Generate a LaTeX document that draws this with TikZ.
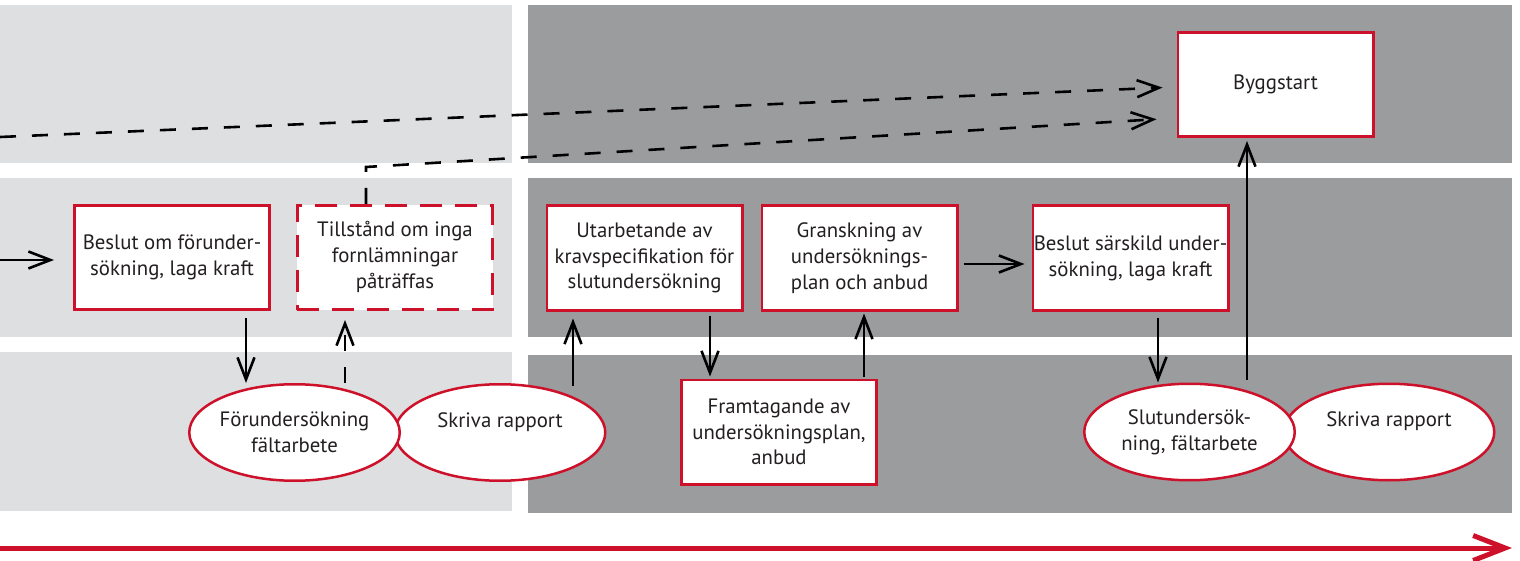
\documentclass[tikz,border=0pt]{standalone}
\usepackage{fontspec}
\setmainfont{PT Sans}
\usetikzlibrary{arrows.meta,shapes.geometric}
\definecolor{lightbg}{RGB}{222,223,225}
\definecolor{darkbg}{RGB}{155,156,158}
\definecolor{redc}{RGB}{206,17,42}
\definecolor{txt}{RGB}{35,31,32}
\begin{document}
\begin{tikzpicture}[x=1pt,y=-1pt,
  band/.style={fill=#1,draw=none},
  boxtext/.style={font=\fontsize{20.8}{25.7}\selectfont,text=txt,align=center},
  stepbox/.style={boxtext,draw=redc,line width=2.7pt,fill=white,inner sep=0pt,
    minimum width=195.3pt,minimum height=104.3pt},
  dashbox/.style={stepbox,dash pattern=on 22pt off 13pt},
  oval/.style={boxtext,ellipse,draw=redc,line width=2.5pt,fill=white,inner sep=-8pt,
    minimum width=210.5pt,minimum height=96.5pt},
  arr/.style={draw=black,line width=2.6pt,-{Straight Barb[length=22pt,width=17pt]}},
  darr/.style={arr,dash pattern=on 16pt off 16pt},
  timeline/.style={draw=redc,line width=5pt,-{Straight Barb[length=32pt,width=25pt]}}
]
\useasboundingbox (0,0) rectangle (1520,561);
% background bands
\fill[band=lightbg] (0,5) rectangle (512,163);
\fill[band=lightbg] (0,178) rectangle (512,337);
\fill[band=lightbg] (0,352) rectangle (512,511);
\fill[band=darkbg] (528,5) rectangle (1512,163);
\fill[band=darkbg] (528,178) rectangle (1512,337);
\fill[band=darkbg] (528,355) rectangle (1512,513);

% nodes
\node[stepbox] (beslut1) at (172,257.5) {Beslut om förunder-\\sökning, laga kraft};
\node[dashbox] (tillst) at (395,257.5) {\raisebox{19pt}{\begin{tabular}{@{}c@{}}Tillstånd om inga\\fornlämningar\\påträffas\end{tabular}}};
\node[stepbox] (utarb) at (644.5,258) {Utarbetande av\\kravspecifikation för\\slutundersökning};
\node[stepbox] (gransk) at (859.5,258) {Granskning av\\undersöknings-\\plan och anbud};
\node[stepbox] (beslut2) at (1130.5,258) {Beslut särskild under-\\sökning, laga kraft};
\node[stepbox] (bygg) at (1275.5,84.5) {Byggstart};
\node[stepbox] (framt) at (779,432) {Framtagande av\\undersökningsplan,\\anbud};
\node[oval] (sk1) at (500,432.5) {Skriva rapport\\\mbox{}};
\node[oval] (f1ell) at (294.5,432.5) {Förundersökning\\fältarbete};
\node[oval] (sk2) at (1389,432) {Skriva rapport\\\mbox{}};
\node[oval] (slut) at (1189.5,432) {Slutundersök-\\ning, fältarbete};

% helper coordinates
\coordinate (in1) at (0,260);
\coordinate (d1) at (0,137);
\coordinate (bend) at (366,167);
\coordinate (xa) at (246,0);
\coordinate (xb) at (345,0);
\coordinate (xc) at (573,0);
\coordinate (xe) at (710,0);
\coordinate (xf) at (864,0);
\coordinate (yg) at (0,264);
\coordinate (xh) at (1158,0);
\coordinate (xi) at (1247,0);
\coordinate (tl0) at (0,548);
\coordinate (tl1) at (1512,548);

% connectors
\draw[arr,shorten >=19pt] (in1) -- (in1 -| beslut1.west);
\draw[darr,shorten >=14pt] (d1) -- ([yshift=-2.5pt]bygg.west);
\draw[darr,shorten >=20pt] (tillst.north -| bend) -- (bend) -- ([yshift=-33.5pt]bygg.west);
\draw[arr,shorten <=7pt] (beslut1.south -| xa) -- (f1ell.north -| xa);
\draw[darr,shorten >=9pt] (f1ell.north -| xb) -- (tillst.south -| xb);
\draw[arr,shorten <=-3pt,shorten >=7pt] (sk1.north -| xc) -- (utarb.south -| xc);
\draw[arr,shorten <=4pt,shorten >=2pt] (utarb.south -| xe) -- (framt.north -| xe);
\draw[arr,shorten <=2pt,shorten >=2pt] (framt.north -| xf) -- (gransk.south -| xf);
\draw[arr,shorten <=5pt,shorten >=7pt] (gransk.east |- yg) -- (beslut2.west |- yg);
\draw[arr,shorten <=6pt] (beslut2.south -| xh) -- (slut.north -| xh);
\draw[arr,shorten <=3pt,shorten >=3pt] (slut.north -| xi) -- (bygg.south -| xi);
\draw[timeline] (tl0) -- (tl1);
\end{tikzpicture}
\end{document}
